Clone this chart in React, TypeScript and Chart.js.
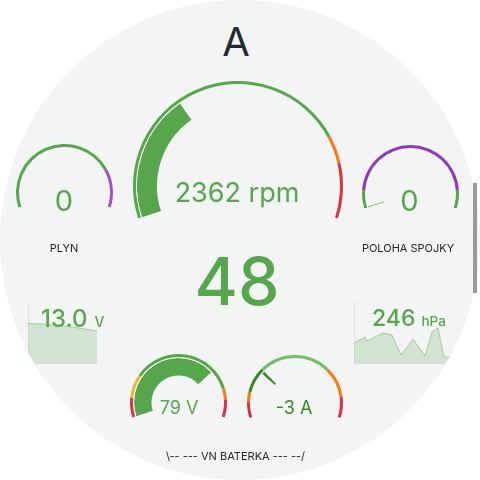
import React, { useEffect, useRef } from "react";
import { Chart, registerables } from "chart.js";

Chart.register(...registerables);

const GREEN = "#56A64B";
const LIGHT_GREEN = "#73BF69";
const DARK_GREEN = "#37872D";
const ORANGE = "#FF780A";
const RED = "#E02F44";
const YELLOW = "#EAB839";
const PURPLE = "#A352CC";
const DARK_PURPLE = "#8F3BB8";
const T = "rgba(0,0,0,0)";

// ---- data ----
const title = "A";

const rpmValue = 2362;
const rpmSteps = [0, 5500, 6000, 7000];
const rpmColors = [GREEN, ORANGE, RED];

const plynValue = 0;
const plynSteps = [0, 78, 100];
const plynColors = [GREEN, PURPLE];

const spojkaValue = 0.4;
const spojkaSteps = [0, 10, 90, 100];
const spojkaColors = [GREEN, DARK_PURPLE, GREEN];

const speedValue = 48;

const voltValue = 79;
const voltSteps = [0, 12, 27, 92, 99, 110];
const voltColors = [RED, YELLOW, GREEN, ORANGE, RED];

const ampValue = -3;
const ampBase = 0;
const ampSteps = [-50, -35, -25, 0, 70, 100, 120];
const ampColors = [RED, ORANGE, DARK_GREEN, LIGHT_GREEN, ORANGE, RED];

const batteryTimes = [0, 1, 2, 3, 4, 5, 6, 7, 8, 9, 10, 11];
const batteryValues = [13.2, 13.19, 13.19, 13.18, 13.17, 13.16, 13.14, 13.13, 13.11, 13.09, 13.07, 13.05];
const batteryStat = "13.0";

const pressureTimes = [0, 11, 13, 21, 29, 33, 38, 47, 59, 71, 78, 84, 90, 97, 110];
const pressureValues = [255, 285, 265, 285, 305, 300, 295, 195, 275, 190, 310, 330, 185, 185, 185];
const pressureStat = "246";

// ---- components ----
type GaugeProps = {
  cx: number; cy: number; r: number;
  steps: number[]; colors: string[];
  value: number; base?: number; barColor: string; barInner: number;
};

function Gauge({ cx, cy, r, steps, colors, value, base, barColor, barInner }: GaugeProps) {
  const ref = useRef<HTMLCanvasElement>(null);
  useEffect(() => {
    const sweep = 216;
    const min = steps[0];
    const max = steps[steps.length - 1];
    const span = max - min;
    const gap = (span * (360 - sweep)) / sweep;
    const ringData = steps.slice(1).map((s, i) => s - steps[i]).concat([gap]);
    const ringColors = [...colors, T];
    const b = base === undefined ? min : base;
    const lo = Math.min(b, value);
    const hi = Math.max(b, value);
    const barData = [lo - min, hi - lo, max - hi, gap];
    const ring = 3;
    const spacer = 1;
    const barW = r - ring - spacer - barInner;
    const chart = new Chart(ref.current as HTMLCanvasElement, {
      type: "doughnut",
      data: {
        datasets: [
          { data: ringData, backgroundColor: ringColors, borderWidth: 0, weight: ring } as any,
          { data: barData, backgroundColor: [T, "#ffffff", T, T], borderWidth: 0, weight: spacer } as any,
          { data: barData, backgroundColor: [T, barColor, T, T], borderWidth: 0, weight: barW } as any,
        ],
      },
      options: {
        animation: false,
        responsive: false,
        events: [],
        rotation: -sweep / 2,
        circumference: 360,
        radius: r,
        cutout: (barInner / r) * 100 + "%",
        layout: { padding: 0 },
        plugins: { legend: { display: false }, tooltip: { enabled: false } },
      } as any,
    });
    return () => chart.destroy();
  }, []);
  const size = Math.round(2 * r + 6);
  return (
    <canvas
      ref={ref}
      width={size}
      height={size}
      style={{ position: "absolute", left: cx - size / 2, top: cy - size / 2, width: size, height: size }}
    />
  );
}

type SparkProps = {
  left: number; top: number; width: number; height: number;
  xs: number[]; ys: number[]; xMax: number; yMin: number; yMax: number;
};

function Spark({ left, top, width, height, xs, ys, xMax, yMin, yMax }: SparkProps) {
  const ref = useRef<HTMLCanvasElement>(null);
  useEffect(() => {
    const chart = new Chart(ref.current as HTMLCanvasElement, {
      type: "line",
      data: {
        datasets: [
          {
            data: xs.map((x, i) => ({ x, y: ys[i] })),
            borderColor: "rgba(86,166,75,0.45)",
            borderWidth: 1,
            backgroundColor: "rgba(86,166,75,0.2)",
            fill: "start",
            pointRadius: 0,
            tension: 0,
          },
        ],
      },
      options: {
        animation: false,
        responsive: false,
        events: [],
        layout: { padding: 0 },
        scales: {
          x: { type: "linear", display: false, min: 0, max: xMax },
          y: {
            display: true,
            min: yMin,
            max: yMax,
            ticks: { display: false },
            grid: { display: false, drawTicks: false },
            border: { display: true, dash: [1, 3], color: "rgba(0,0,0,0.07)" },
          },
        },
        plugins: { legend: { display: false }, tooltip: { enabled: false } },
      } as any,
    });
    return () => chart.destroy();
  }, []);
  return (
    <canvas
      ref={ref}
      width={width}
      height={height}
      style={{ position: "absolute", left, top, width, height }}
    />
  );
}

function Text({ x, baseline, size, color, weight = 400, children }: any) {
  return (
    <div
      style={{
        position: "absolute",
        left: x,
        top: baseline - 0.863 * size,
        transform: "translateX(-50%)",
        fontSize: size,
        lineHeight: 1,
        color,
        fontWeight: weight,
        whiteSpace: "nowrap",
      }}
    >
      {children}
    </div>
  );
}

function Stat({ left, baseline, size, unitSize, value, unit, gap }: any) {
  return (
    <div
      style={{
        position: "absolute",
        left,
        top: baseline - 0.863 * size,
        fontSize: size,
        lineHeight: 1,
        color: GREEN,
        fontWeight: 500,
        whiteSpace: "nowrap",
      }}
    >
      <span>{value}</span>
      <span style={{ fontSize: unitSize, marginLeft: gap, fontWeight: 500 }}>{unit}</span>
    </div>
  );
}

export default function App() {
  const DARK = "#24292e";
  return (
    <div style={{ position: "relative", width: 480, height: 480, fontFamily: "Inter, 'Noto Sans', sans-serif" }}>
      <style>{"body{margin:0;background:#fff}"}</style>
      <div
        style={{
          position: "absolute",
          left: 0,
          top: 0,
          width: 480,
          height: 480,
          borderRadius: "50%",
          background: "#f3f4f4",
          overflow: "hidden",
        }}
      >
        <Text x={236} baseline={57} size={40} color={DARK}>{title}</Text>

        <Gauge cx={238} cy={186} r={105} steps={rpmSteps} colors={rpmColors} value={rpmValue} barColor={GREEN} barInner={81} />
        <Text x={237} baseline={202} size={27} color={GREEN}>{rpmValue} rpm</Text>

        <Gauge cx={64.5} cy={192.5} r={48.5} steps={plynSteps} colors={plynColors} value={plynValue} barColor={GREEN} barInner={27} />
        <Text x={64} baseline={211} size={29} color={GREEN}>{Math.round(plynValue)}</Text>
        <Text x={64} baseline={252} size={11} color={DARK}>PLYN</Text>

        <Gauge cx={410} cy={193} r={48.5} steps={spojkaSteps} colors={spojkaColors} value={spojkaValue} barColor={GREEN} barInner={28} />
        <Text x={409.5} baseline={211} size={29} color={GREEN}>{Math.round(spojkaValue)}</Text>
        <Text x={408} baseline={252} size={11} color={DARK}>POLOHA SPOJKY</Text>

        <Text x={237} baseline={305} size={66} color={GREEN} weight={500}>{speedValue}</Text>

        <Spark left={28} top={303} width={69} height={61} xs={batteryTimes} ys={batteryValues} xMax={11} yMin={12.4} yMax={13.6} />
        <Stat left={41} baseline={328} size={24} unitSize={14} value={batteryStat} unit="V" gap={7} />

        <Spark left={354} top={303} width={110} height={61} xs={pressureTimes} ys={pressureValues} xMax={110} yMin={150} yMax={455} />
        <Stat left={372} baseline={327} size={23} unitSize={13.5} value={pressureStat} unit="hPa" gap={6} />

        <Gauge cx={178.5} cy={402.5} r={48.5} steps={voltSteps} colors={voltColors} value={voltValue} barColor={GREEN} barInner={27} />
        <Text x={179} baseline={415} size={18} color={GREEN}>{voltValue} V</Text>

        <Gauge cx={294.5} cy={402.5} r={48} steps={ampSteps} colors={ampColors} value={ampValue} base={ampBase} barColor={DARK_GREEN} barInner={27} />
        <Text x={294} baseline={415} size={18} color={DARK_GREEN}>{ampValue} A</Text>

        <Text x={235.5} baseline={460} size={11} color={DARK}>{"\\-- --- VN BATERKA --- --/"}</Text>
      </div>
      <div style={{ position: "absolute", left: 473, top: 183, width: 4, height: 110, background: "#9a9a9a" }} />
    </div>
  );
}
